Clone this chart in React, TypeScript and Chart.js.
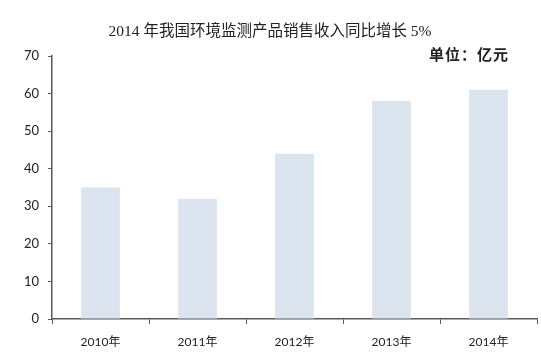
import React, { useEffect, useRef } from "react";
import { Chart, registerables } from "chart.js";

Chart.register(...registerables);

const categories: string[] = ["2010年", "2011年", "2012年", "2013年", "2014年"];
const revenue: number[] = [35, 32, 44, 58, 61];
const titleText = "2014 年我国环境监测产品销售收入同比增长 5%";
const unitText = "单位：亿元";

const textPlugin = {
  id: "textPlugin",
  afterDraw(chart: any) {
    const ctx = chart.ctx as CanvasRenderingContext2D;
    ctx.save();
    ctx.fillStyle = "#222222";
    ctx.textBaseline = "middle";
    ctx.textAlign = "center";
    ctx.font = '15.5px "Liberation Serif", "Noto Sans CJK SC", serif';
    ctx.fillText(titleText, 270, 32);
    ctx.textAlign = "right";
    ctx.font = 'bold 15px "Noto Sans CJK SC", sans-serif';
    (ctx as any).letterSpacing = "1px";
    ctx.fillText(unitText, 509, 54);
    ctx.restore();
  },
};

export default function App() {
  const ref = useRef<HTMLCanvasElement | null>(null);
  useEffect(() => {
    document.body.style.margin = "0";
    if (!ref.current) return;
    const axisColor = "#595959";
    const chart = new Chart(ref.current, {
      type: "bar",
      data: {
        labels: categories,
        datasets: [
          {
            data: revenue,
            backgroundColor: "#dbe4ef",
            borderWidth: 0,
            barPercentage: 0.4,
            categoryPercentage: 1,
          },
        ],
      },
      options: {
        animation: false,
        responsive: false,
        maintainAspectRatio: false,
        layout: { padding: { top: 56, right: 4, left: 0, bottom: 0 } },
        plugins: {
          legend: { display: false },
          title: { display: false },
          tooltip: { enabled: false },
        },
        scales: {
          x: {
            offset: true,
            grid: {
              offset: true,
              drawOnChartArea: false,
              drawTicks: true,
              tickLength: 5,
              color: axisColor,
            },
            border: { display: true, color: axisColor, width: 1.5 },
            ticks: {
              color: "#222",
              padding: 11,
              maxRotation: 0,
              font: { family: "Lato, 'Noto Sans CJK SC', sans-serif", size: 12 },
            },
            afterFit(scale: any) {
              scale.height = 40;
            },
          },
          y: {
            min: 0,
            max: 70,
            ticks: {
              stepSize: 10,
              color: "#222",
              padding: 9,
              font: { family: "Lato, sans-serif", size: 13 },
            },
            grid: {
              drawOnChartArea: false,
              drawTicks: true,
              tickLength: 4,
              color: axisColor,
            },
            border: { display: true, color: axisColor, width: 1.5 },
            afterFit(scale: any) {
              scale.width = 52;
            },
          },
        },
      },
      plugins: [textPlugin],
    });
    return () => chart.destroy();
  }, []);
  return (
    <div style={{ width: 541, height: 359, background: "#fff" }}>
      <canvas ref={ref} width={541} height={359} style={{ display: "block" }} />
    </div>
  );
}
